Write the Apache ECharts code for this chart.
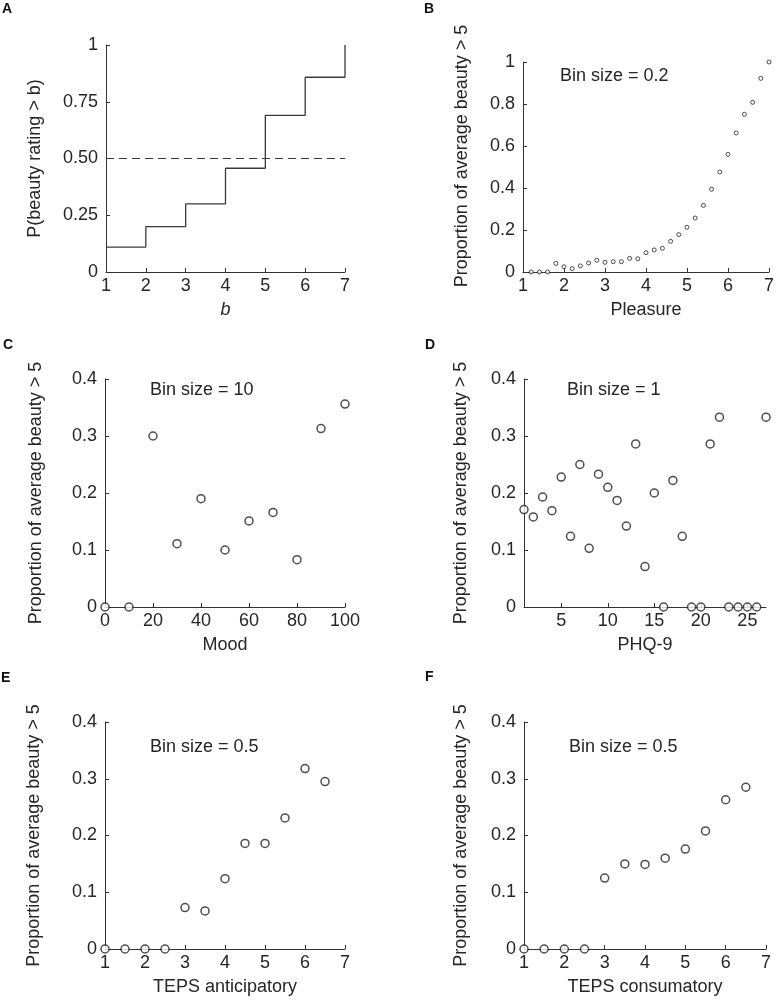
<!DOCTYPE html>
<html>
<head>
<meta charset="utf-8">
<script src="https://cdn.jsdelivr.net/npm/echarts@6/dist/echarts.min.js"></script>
<style>
html,body{margin:0;padding:0;background:#fff;}
#c{width:777px;height:1002px;}
</style>
</head>
<body>
<div id="c"></div>
<script>
// ---------- data ----------
const stepX = [1, 2, 3, 4, 5, 6, 7];
const stepY = [0.11, 0.20, 0.30, 0.457, 0.69, 0.858, 1.0];
const refX = [1, 7];
const refY = [0.5, 0.5];
const stepTickLabels = ['0', '0.25', '0.50', '0.75', '1'];

const pleasureX = [1.2, 1.4, 1.6, 1.8, 2.0, 2.2, 2.4, 2.6, 2.8, 3.0, 3.2, 3.4, 3.6, 3.8, 4.0,
                   4.2, 4.4, 4.6, 4.8, 5.0, 5.2, 5.4, 5.6, 5.8, 6.0, 6.2, 6.4, 6.6, 6.8, 7.0];
const pleasureY = [0, 0, 0, 0.041, 0.025, 0.016, 0.029, 0.043, 0.056, 0.046, 0.049, 0.049, 0.065, 0.063, 0.092,
                   0.105, 0.113, 0.146, 0.178, 0.213, 0.257, 0.317, 0.394, 0.476, 0.560, 0.662, 0.751, 0.808, 0.922, 1.0];

const moodX = [0, 10, 20, 30, 40, 50, 60, 70, 80, 90, 100];
const moodY = [0, 0, 0.300, 0.111, 0.190, 0.100, 0.151, 0.166, 0.083, 0.313, 0.356];

const phqX = [1, 2, 3, 4, 5, 6, 7, 8, 9, 10, 11, 12, 13, 14, 15, 16, 17, 18, 19, 20, 21, 22, 23, 24, 25, 26, 27];
const phqY = [0.171, 0.158, 0.193, 0.169, 0.228, 0.124, 0.250, 0.103, 0.233, 0.210, 0.187, 0.142, 0.286, 0.071, 0.200,
              0, 0.222, 0.124, 0, 0, 0.286, 0.333, 0, 0, 0, 0, 0.333];
const phqTicks = [5, 10, 15, 20, 25];

const antX = [1, 1.5, 2, 2.5, 3, 3.5, 4, 4.5, 5, 5.5, 6, 6.5];
const antY = [0, 0, 0, 0, 0.073, 0.067, 0.124, 0.186, 0.186, 0.231, 0.318, 0.295];

const conX = [1, 1.5, 2, 2.5, 3, 3.5, 4, 4.5, 5, 5.5, 6, 6.5];
const conY = [0, 0, 0, 0, 0.125, 0.150, 0.149, 0.160, 0.176, 0.208, 0.263, 0.285];

const panelLetters = ['A', 'B', 'C', 'D', 'E', 'F'];
const xNames = ['b', 'Pleasure', 'Mood', 'PHQ-9', 'TEPS anticipatory', 'TEPS consumatory'];
const yNameA = 'P(beauty rating > b)';
const yNameOther = 'Proportion of average beauty > 5';
const binLabels = ['Bin size = 0.2', 'Bin size = 10', 'Bin size = 1', 'Bin size = 0.5', 'Bin size = 0.5'];

// ---------- style ----------
const FONT = '"Liberation Sans", Arial, Helvetica, sans-serif';
const AX = '#333333';
const TX = '#262626';
const TICK_FS = 18;
const NAME_FS = 18;

const pair = (xs, ys) => xs.map((x, i) => [x, ys[i]]);

const grids = [
  {left: 106, top: 45, width: 239, height: 227},
  {left: 523, top: 62, width: 246, height: 210},
  {left: 105, top: 379, width: 240, height: 228},
  {left: 524, top: 379, width: 242, height: 228},
  {left: 105, top: 722, width: 240, height: 227},
  {left: 524, top: 722, width: 242, height: 227}
];

function xAxis(i, min, max, interval, extra) {
  const a = {
    type: 'value', gridIndex: i, min: min, max: max, interval: interval,
    name: xNames[i], nameLocation: 'middle', nameGap: 29,
    nameTextStyle: {fontSize: NAME_FS, color: TX, fontFamily: FONT},
    axisLine: {show: true, onZero: false, lineStyle: {color: AX, width: 1}},
    axisTick: {show: true, inside: true, length: 4, lineStyle: {color: AX}},
    axisLabel: {show: true, fontSize: TICK_FS, color: TX, fontFamily: FONT, margin: 5, hideOverlap: false},
    splitLine: {show: false}
  };
  return Object.assign(a, extra || {});
}
function yAxis(i, min, max, interval, name, gap, extra) {
  const a = {
    type: 'value', gridIndex: i, min: min, max: max, interval: interval,
    name: name, nameLocation: 'middle', nameGap: gap,
    nameTextStyle: {fontSize: NAME_FS, color: TX, fontFamily: FONT},
    axisLine: {show: true, onZero: false, lineStyle: {color: AX, width: 1}},
    axisTick: {show: true, inside: true, length: 4, lineStyle: {color: AX}},
    axisLabel: {show: true, fontSize: TICK_FS, color: TX, fontFamily: FONT, margin: 8, hideOverlap: false},
    splitLine: {show: false}
  };
  return Object.assign(a, extra || {});
}

const xAxes = [
  xAxis(0, 1, 7, 1, {nameTextStyle: {fontSize: NAME_FS, color: TX, fontFamily: FONT, fontStyle: 'italic'}}),
  xAxis(1, 1, 7, 1),
  xAxis(2, 0, 100, 20),
  xAxis(3, 1, 27, null, {
    interval: undefined,
    axisTick: {show: true, inside: true, length: 4, lineStyle: {color: AX}, customValues: phqTicks},
    axisLabel: {show: true, fontSize: TICK_FS, color: TX, fontFamily: FONT, margin: 5, customValues: phqTicks}
  }),
  xAxis(4, 1, 7, 1),
  xAxis(5, 1, 7, 1)
];
const yAxes = [
  yAxis(0, 0, 1, 0.25, yNameA, 62, {
    axisLabel: {show: true, fontSize: TICK_FS, color: TX, fontFamily: FONT, margin: 8,
      formatter: (v) => stepTickLabels[Math.round(v / 0.25)]}
  }),
  yAxis(1, 0, 1, 0.2, yNameOther, 52, {
    nameTextStyle: {fontSize: NAME_FS, color: TX, fontFamily: FONT, padding: [0, 0, 0, 22]}
  }),
  yAxis(2, 0, 0.4, 0.1, yNameOther, 60),
  yAxis(3, 0, 0.4, 0.1, yNameOther, 54),
  yAxis(4, 0, 0.4, 0.1, yNameOther, 62),
  yAxis(5, 0, 0.4, 0.1, yNameOther, 54)
];

function scatter(i, xs, ys, size, bw) {
  return {
    type: 'scatter', xAxisIndex: i, yAxisIndex: i, data: pair(xs, ys),
    symbol: 'circle', symbolSize: size, clip: false, z: 5,
    itemStyle: {color: '#ffffff', borderColor: '#222222', borderWidth: bw},
    emphasis: {disabled: true}, silent: true
  };
}

const series = [
  {
    type: 'line', xAxisIndex: 0, yAxisIndex: 0, data: pair(stepX, stepY), step: 'end',
    showSymbol: false, symbol: 'none', clip: false, silent: true,
    lineStyle: {color: '#3a3a3a', width: 1.3}
  },
  {
    type: 'line', xAxisIndex: 0, yAxisIndex: 0, data: pair(refX, refY),
    showSymbol: false, symbol: 'none', clip: false, silent: true,
    lineStyle: {color: '#3a3a3a', width: 1.2, type: [8, 5]}
  },
  scatter(1, pleasureX, pleasureY, 4, 1),
  scatter(2, moodX, moodY, 8, 1.5),
  scatter(3, phqX, phqY, 8, 1.5),
  scatter(4, antX, antY, 8, 1.5),
  scatter(5, conX, conY, 8, 1.5)
];

const letterPos = [[2, 2], [424, 2], [3, 338], [425, 338], [1, 671], [425, 670]];
const binPos = [[560, 76], [150, 390], [567, 390], [150, 747], [569, 747]];

const graphic = [];
panelLetters.forEach((t, i) => {
  graphic.push({type: 'text', left: letterPos[i][0], top: letterPos[i][1], silent: true,
    style: {text: t, fontSize: 14, fontWeight: 'bold', fill: '#111', fontFamily: FONT}});
});
binLabels.forEach((t, i) => {
  graphic.push({type: 'text', x: binPos[i][0], y: binPos[i][1], silent: true,
    style: {text: t, fontSize: NAME_FS, fill: TX, fontFamily: FONT, verticalAlign: 'middle', align: 'left'}});
});

const chart = echarts.init(document.getElementById('c'), null, {renderer: 'canvas'});
chart.setOption({
  animation: false,
  backgroundColor: '#ffffff',
  grid: grids,
  xAxis: xAxes,
  yAxis: yAxes,
  series: series,
  graphic: graphic
});
</script>
</body>
</html>
